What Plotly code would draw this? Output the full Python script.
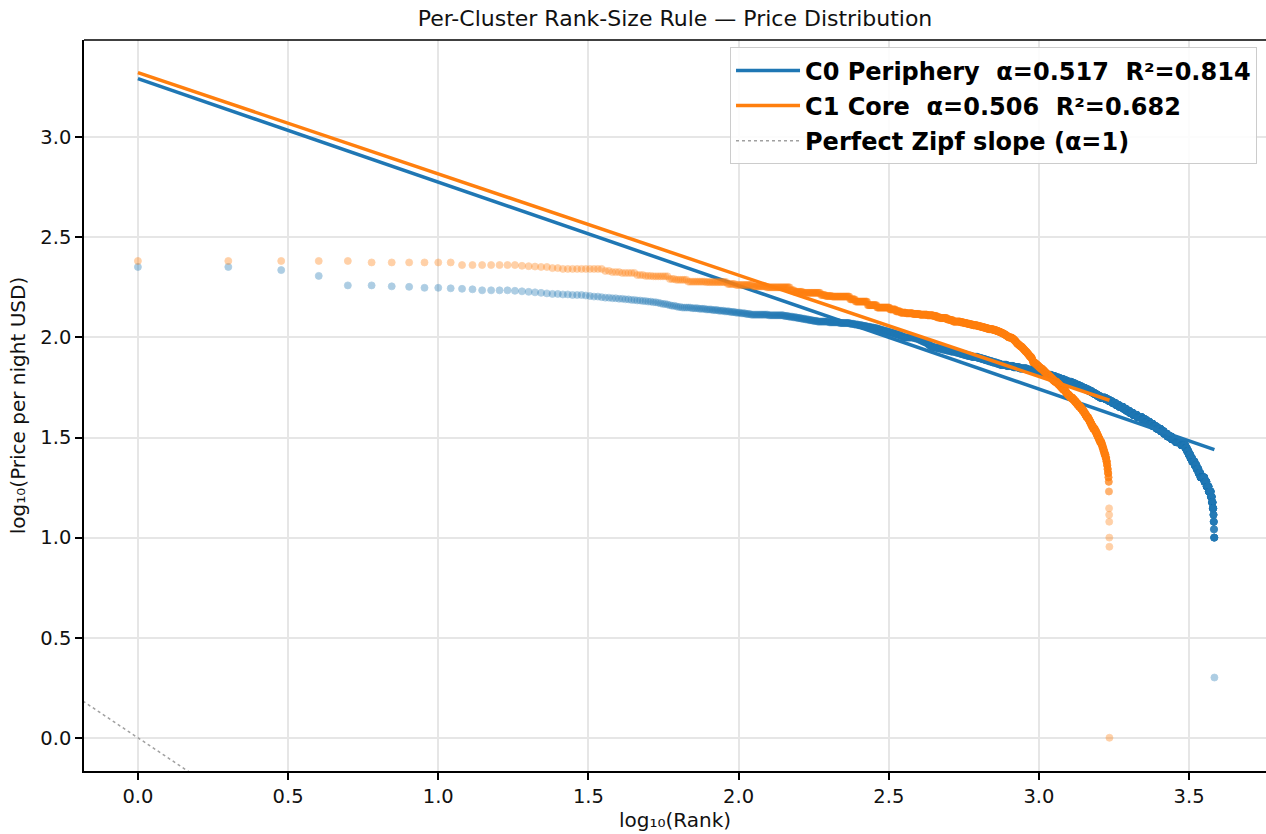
import numpy as np
import plotly.graph_objects as go

# ---------------- data (sorted price levels in USD and number of listings at each) -------------
c0_prices = [225, 217, 203, 182, 180, 179, 177, 176, 175, 174, 172, 171,
             170, 169, 168, 167, 166, 165, 164, 163, 162, 161, 160, 159, 158, 157,
             156, 155, 154, 153, 152, 151, 150, 149, 148, 147, 146, 145, 144, 143, 142,
             141, 140, 139, 138, 137, 136, 135, 134, 133, 132, 131, 130, 129,
             128, 127, 126, 125, 124, 123, 122, 121, 120, 119, 118,
             117, 116, 115, 114, 113, 112, 111, 110, 109, 108, 107, 106, 105, 104, 103,
             102, 101, 100, 99, 98, 97, 96, 95, 94, 93, 92, 91, 90,
             89, 88, 87, 86, 85, 84, 83, 82, 81, 80, 79, 78, 77, 76, 75, 74,
             73, 72, 71, 70, 69, 68, 67, 66, 65, 64, 63, 62, 61,
             60, 59, 58, 57, 56, 55, 54, 53, 52, 51, 50, 49, 48, 47, 46, 45, 44, 43, 42,
             41, 40, 39, 38, 37, 36, 35, 34, 33, 32, 31, 30, 29, 28, 27, 26, 25, 24,
             23, 22, 21, 20, 19, 18, 17, 16, 15, 14, 13, 12, 11, 10, 2]
c0_counts = [2, 1, 1, 2, 1, 1, 2, 1, 1, 1, 4, 1,
             1, 1, 1, 1, 1, 2, 2, 3, 1, 1, 2, 1, 2, 2,
             2, 2, 2, 2, 2, 2, 2, 1, 1, 2, 1, 1, 2, 1, 2,
             5, 4, 4, 4, 4, 4, 4, 4, 4, 4, 4, 16, 16,
             5, 5, 5, 5, 5, 5, 5, 6, 17, 17, 18,
             8, 8, 8, 8, 8, 8, 8, 6, 6, 7, 7, 7, 7, 7, 7,
             5, 5, 30, 10, 6, 6, 6, 8, 4, 4, 4, 4, 8,
             16, 16, 16, 16, 20, 16, 15, 16, 20, 30, 18, 18, 18, 20, 22, 20,
             40, 40, 40, 50, 44, 35, 35, 35, 40, 35, 35, 35, 34,
             45, 35, 35, 35, 35, 40, 33, 33, 33, 33, 70, 45, 45, 45, 45, 60, 45, 50, 55,
             65, 80, 65, 65, 65, 65, 80, 65, 67, 90, 90, 120, 97, 40, 40, 40, 45, 63,
             50, 50, 50, 106, 60, 60, 61, 30, 25, 18, 8, 8, 5, 9, 1]

c1_prices = [241, 237, 230, 228, 227, 226, 225, 222, 220, 215, 212, 210, 205, 203, 202,
             196, 194, 190, 189, 185, 183, 180, 178, 172, 169, 167, 163, 161, 160,
             155, 151, 145, 141, 138, 135, 133, 132, 131, 130, 129, 128, 126, 125,
             123, 122, 120, 119, 118, 117, 116, 115, 114, 113, 112, 111, 110, 109,
             108, 107, 106, 105, 104, 103, 102, 101, 100, 99, 98, 97, 96, 95, 94,
             93, 92, 91, 90, 89, 88, 87, 86, 85, 84, 83, 82, 81, 80, 79, 78, 77, 76,
             75, 74, 73, 72, 71, 70, 69, 68, 67, 66, 65, 64, 63, 62, 61, 60,
             59, 58, 57, 56, 55, 54, 53, 52, 51, 50, 49, 48, 47, 46, 45, 44, 43,
             42, 41, 40, 39, 38, 37, 36, 35, 34, 33, 32, 31, 30, 29, 28, 27, 26,
             25, 24, 23, 22, 21, 20, 19, 17, 14, 13, 12, 10, 9, 1]
c1_counts = [5, 6, 7, 1, 1, 1, 2, 2, 10, 2, 3, 5, 3, 3, 7,
             3, 6, 10, 14, 6, 14, 12, 25, 5, 10, 24, 7, 10, 30,
             10, 24, 20, 30, 15, 12, 15, 20, 20, 24, 20, 12, 12, 25,
             12, 12, 30, 14, 14, 14, 14, 20, 14, 14, 14, 14, 24, 14,
             12, 12, 10, 10, 8, 8, 8, 6, 20, 8, 6, 6, 5, 5, 4,
             8, 7, 7, 10, 6, 6, 6, 6, 8, 6, 6, 6, 5, 10, 5, 4, 2, 2,
             14, 10, 10, 10, 10, 15, 10, 10, 10, 10, 15, 10, 13, 13, 13, 20,
             13, 13, 13, 13, 17, 12, 10, 16, 16, 24, 16, 16, 16, 16, 20, 16, 16,
             14, 14, 20, 13, 13, 13, 16, 22, 15, 15, 15, 15, 20, 12, 12, 12, 14,
             10, 8, 6, 6, 6, 4, 3, 2, 1, 1, 1, 1, 1, 1]

cluster_names = ["C0 Periphery", "C1 Core"]
fit_alpha = [0.517, 0.506]
fit_intercept = [3.293, 3.323]
fit_r2 = [0.814, 0.682]
zipf_alpha = 1.0

colors = ["#1f77b4", "#ff7f0e"]
FONT = "DejaVu Sans"

fig = go.Figure()

for i, (pr, ct) in enumerate([(c0_prices, c0_counts), (c1_prices, c1_counts)]):
    prices = np.repeat(np.array(pr, dtype=float), ct)
    ranks = np.arange(1, len(prices) + 1)
    lx = np.log10(ranks)
    ly = np.log10(prices)
    fig.add_trace(go.Scatter(
        x=lx, y=ly, mode="markers",
        marker=dict(size=7, color=colors[i], opacity=0.36,
                    line=dict(width=0.8, color=colors[i])),
        showlegend=False, hoverinfo="skip"))
    xf = np.array([0.0, lx[-1]])
    yf = fit_intercept[i] - fit_alpha[i] * xf
    fig.add_trace(go.Scatter(
        x=xf, y=yf, mode="lines",
        line=dict(color=colors[i], width=3.5),
        name=f"{cluster_names[i]} \u00a0α={fit_alpha[i]:.3f} \u00a0R²={fit_r2[i]:.3f}",
        legendgroup=f"g{i}", legendrank=i + 1))

xz = np.array([-0.2, 3.8])
fig.add_trace(go.Scatter(
    x=xz, y=-zipf_alpha * xz, mode="lines",
    line=dict(color="#a0a0a0", width=1.5, dash="dot"),
    name="Perfect Zipf slope (α=1)", legendgroup="g2", legendrank=3))

axis_common = dict(
    showgrid=True, gridcolor="#e6e6e6", gridwidth=1.5,
    zeroline=False, showline=True, linecolor="black", linewidth=1.6,
    ticks="outside", ticklen=7, tickwidth=1.6, tickcolor="black",
    tickfont=dict(family=FONT, size=19.5, color="#111"),
    tickformat=".1f", dtick=0.5, tick0=0,
)

fig.update_layout(
    width=1266, height=834,
    margin=dict(l=84, r=0, t=40, b=63),
    paper_bgcolor="white", plot_bgcolor="white",
    title=dict(text="Per-Cluster Rank-Size Rule — Price Distribution",
               x=0.5, xref="paper", xanchor="center", y=0.978, yanchor="middle",
               font=dict(family=FONT, size=22, color="#111")),
    xaxis=dict(axis_common, range=[-0.1795, 3.756],
               title=dict(text="log₁₀(Rank)", standoff=1,
                          font=dict(family=FONT, size=20, color="#111"))),
    yaxis=dict(axis_common, range=[-0.166, 3.486],
               title=dict(text="log₁₀(Price per night USD)", standoff=9,
                          font=dict(family=FONT, size=20, color="#111"))),
    legend=dict(x=0.9924, y=0.99, xanchor="right", yanchor="top",
                bgcolor="rgba(255,255,255,0.85)", bordercolor="#cccccc", borderwidth=1,
                font=dict(family=FONT, size=24, color="black", weight="bold"),
                tracegroupgap=1, itemwidth=64),
    showlegend=True,
)

# top spine
fig.add_shape(type="line", xref="paper", yref="paper", x0=0, x1=1, y0=1, y1=1,
              line=dict(color="black", width=1.6))

fig.write_html("out.html")
